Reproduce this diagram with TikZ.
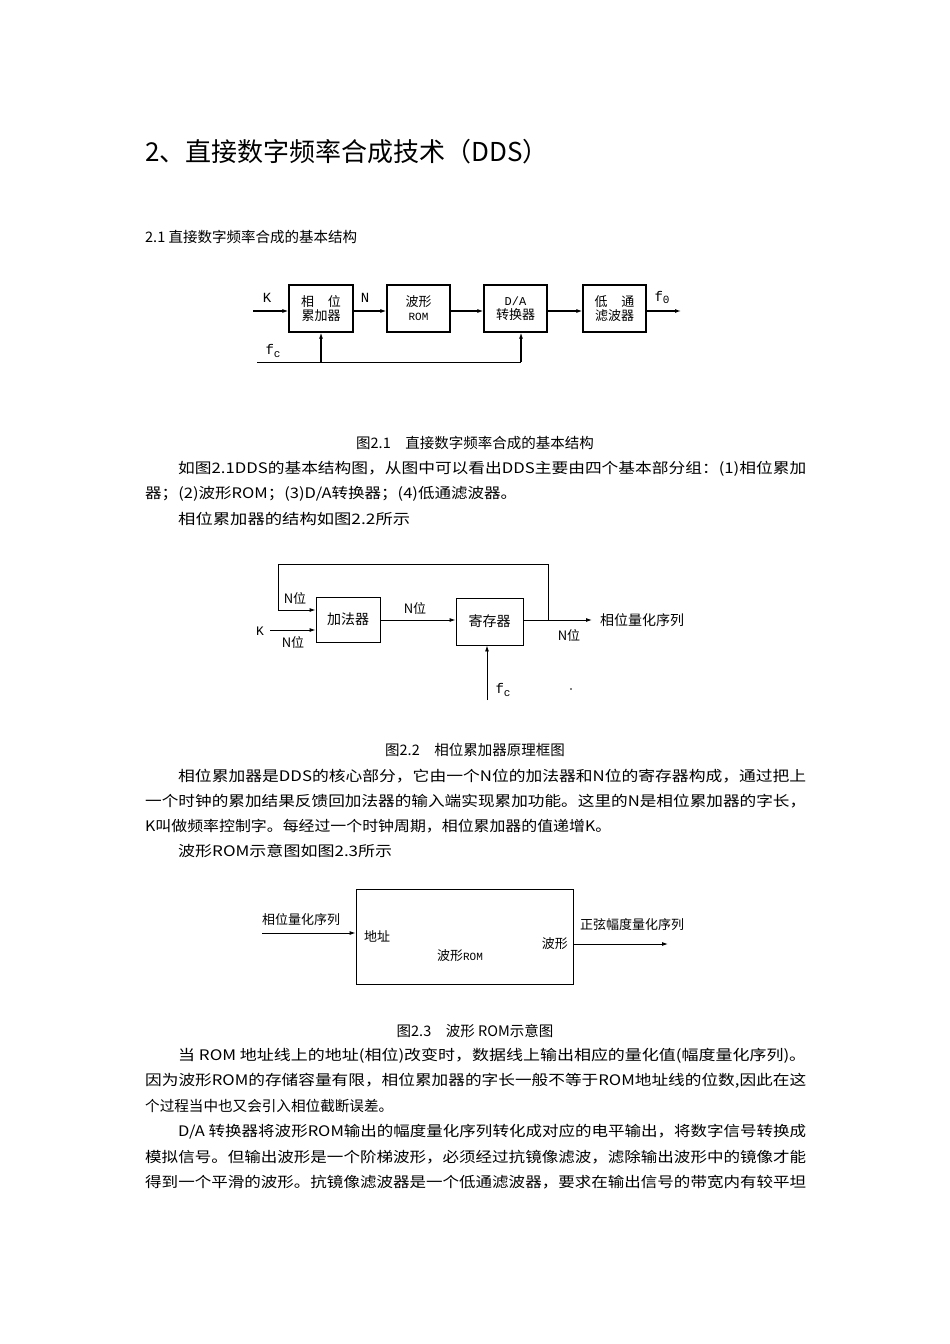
\documentclass[tikz,border=0pt]{standalone}
\usepackage{fontspec}
\usepackage{graphicx}
\newfontfamily\cjk{Noto Sans CJK SC}
\newfontfamily\mono{Liberation Mono}
\newcommand{\fullline}[2]{\resizebox{#1pt}{\height}{#2}}
\usetikzlibrary{arrows.meta}
\begin{document}
\begin{tikzpicture}[x=1pt,y=-1pt,
  txt/.style={anchor=west,inner sep=0pt,font=\cjk\fontsize{14.5}{15}\selectfont},
  ctxt/.style={inner sep=0pt,font=\cjk\fontsize{14.5}{15}\selectfont},
  lab/.style={inner sep=0pt,font=\cjk\fontsize{13}{14}\selectfont},
  mlab/.style={inner sep=0pt,font=\mono\fontsize{14}{14}\selectfont},
  blk/.style={draw,line width=1.2pt,inner sep=0pt},
  blk2/.style={draw,line width=0.9pt,inner sep=0pt},
  ar/.style={-{Latex[length=6pt,width=4pt]},line width=1.1pt},
  ar2/.style={-{Latex[length=6pt,width=4pt]},line width=0.9pt}]
\useasboundingbox (0,0) rectangle (950,1344);
\node[txt,font=\cjk\fontsize{26}{26}\selectfont] (title) at (145,152) {2、直接数字频率合成技术（DDS）};
\node[txt] (h21) at (145,237) {2.1 直接数字频率合成的基本结构};
% Fig 2.1
\node[blk,minimum width=64pt,minimum height=47pt] (acc) at (321,308.5) {};
\node[lab,align=center] at (acc) {相\hspace{14pt}位\\累加器};
\node[blk,minimum width=63pt,minimum height=47pt] (rom) at (418.5,308.5) {};
\node[lab,align=center] at (rom) {波形\\{\mono\fontsize{11}{13}\selectfont ROM}};
\node[blk,minimum width=63pt,minimum height=47pt] (da) at (515.5,308.5) {};
\node[lab,align=center] at (da) {{\mono\fontsize{12}{13}\selectfont D/A}\\转换器};
\node[blk,minimum width=63pt,minimum height=47pt] (lp) at (614.5,308.5) {};
\node[lab,align=center] at (lp) {低\hspace{14pt}通\\滤波器};
\coordinate (kin) at (253,311);
\coordinate (fout) at (681,311);
\draw[ar] (kin) -- (acc.west|-kin);
\draw[ar] (acc.east|-kin) -- (rom.west|-kin);
\draw[ar] (rom.east|-kin) -- (da.west|-kin);
\draw[ar] (da.east|-kin) -- (lp.west|-kin);
\draw[ar] (lp.east|-kin) -- (fout);
\coordinate (fc0) at (257,362);
\coordinate (fc1) at (321,362);
\coordinate (fc2) at (521,362);
\draw[line width=1pt] (fc0) -- (fc2);
\draw[ar,line width=1.8pt] (fc1) -- (acc.south);
\draw[ar,line width=1.8pt] (fc2) -- (da.south-|fc2);
\node[mlab] at (267,298) {K};
\node[mlab] at (365,298) {N};
\node[mlab] at (273,351) {f{\fontsize{11}{11}\selectfont\raisebox{-3pt}{c}}};
\node[mlab] at (662,297) {f{\fontsize{11}{11}\selectfont\raisebox{-2pt}{0}}};
\node[ctxt] (cap1) at (475,443) {图2.1\hspace{1em}直接数字频率合成的基本结构};
\node[txt] at (178,469) {\fullline{628}{如图2.1DDS的基本结构图，从图中可以看出DDS主要由四个基本部分组：(1)相位累加}};
\node[txt] at (145,494) {\fullline{372}{器；(2)波形ROM；(3)D/A转换器；(4)低通滤波器。}};
\node[txt] at (178,519) {\fullline{232}{相位累加器的结构如图2.2所示}};
% Fig 2.2
\node[blk2,minimum width=64pt,minimum height=45pt] (add) at (348,619.5) {};
\node[lab,font=\cjk\fontsize{14}{14}\selectfont] at (add) {加法器};
\node[blk2,minimum width=67pt,minimum height=47pt] (reg) at (489.5,621.5) {};
\node[lab,font=\cjk\fontsize{14}{14}\selectfont] at (reg) {寄存器};
\coordinate (fb) at (548,620);
\coordinate (qout) at (592,620);
\coordinate (kk) at (270,630);
\coordinate (fcb) at (487,700);
\draw[ar2] (add.east|-fb) -- (reg.west|-fb);
\draw[ar2] (reg.east|-fb) -- (qout);
\draw[ar2] (fb) |- (278,564) |- (add.west|-610,610);
\draw[ar2] (kk) -- (add.west|-kk);
\draw[ar2] (fcb) -- (reg.south-|fcb);
\node[mlab,font=\mono\fontsize{13}{13}\selectfont] at (260,631) {K};
\node[lab] at (295,598) {N位};
\node[lab] at (293,642) {N位};
\node[lab] at (415,608) {N位};
\node[lab] at (569,635) {N位};
\node[lab,anchor=west,font=\cjk\fontsize{14}{14}\selectfont] at (600,620) {相位量化序列};
\node[mlab] at (503,690) {f{\fontsize{11}{11}\selectfont\raisebox{-3pt}{c}}};
\fill (571,689) circle (0.8pt);
\node[ctxt] (cap2) at (475,750) {图2.2\hspace{1em}相位累加器原理框图};
\node[txt] at (178,776) {\fullline{628}{相位累加器是DDS的核心部分，它由一个N位的加法器和N位的寄存器构成，通过把上}};
\node[txt] at (145,801) {\fullline{661}{一个时钟的累加结果反馈回加法器的输入端实现累加功能。这里的N是相位累加器的字长，}};
\node[txt] at (145,826) {\fullline{466}{K叫做频率控制字。每经过一个时钟周期，相位累加器的值递增K。}};
\node[txt] at (178,851) {\fullline{214}{波形ROM示意图如图2.3所示}};
% Fig 2.3
\node[blk2,minimum width=217pt,minimum height=95pt] (wrom) at (464.5,936.5) {};
\coordinate (pin) at (262,933);
\coordinate (sout) at (668,944);
\draw[ar2] (pin) -- (wrom.west|-pin);
\draw[ar2] (wrom.east|-sout) -- (sout);
\node[lab,anchor=west] at (262,920) {相位量化序列};
\node[lab,anchor=west] at (364,936) {地址};
\node[lab,anchor=east] at (568,944) {波形};
\node[lab] at (460,956) {波形{\mono\fontsize{11}{12}\selectfont ROM}};
\node[lab,anchor=west] at (580,925) {正弦幅度量化序列};
\node[ctxt] (cap3) at (475,1031) {图2.3\hspace{1em}波形 ROM示意图};
\node[txt] at (178,1056) {\fullline{628}{当 ROM 地址线上的地址(相位)改变时，数据线上输出相应的量化值(幅度量化序列)。}};
\node[txt] at (145,1081) {\fullline{661}{因为波形ROM的存储容量有限，相位累加器的字长一般不等于ROM地址线的位数,因此在这}};
\node[txt] at (145,1106) {\fullline{248}{个过程当中也又会引入相位截断误差。}};
\node[txt] at (178,1132) {\fullline{628}{D/A 转换器将波形ROM输出的幅度量化序列转化成对应的电平输出，将数字信号转换成}};
\node[txt] at (145,1157) {\fullline{661}{模拟信号。但输出波形是一个阶梯波形，必须经过抗镜像滤波，滤除输出波形中的镜像才能}};
\node[txt] at (145,1182) {\fullline{661}{得到一个平滑的波形。抗镜像滤波器是一个低通滤波器，要求在输出信号的带宽内有较平坦}};
\end{tikzpicture}
\end{document}
